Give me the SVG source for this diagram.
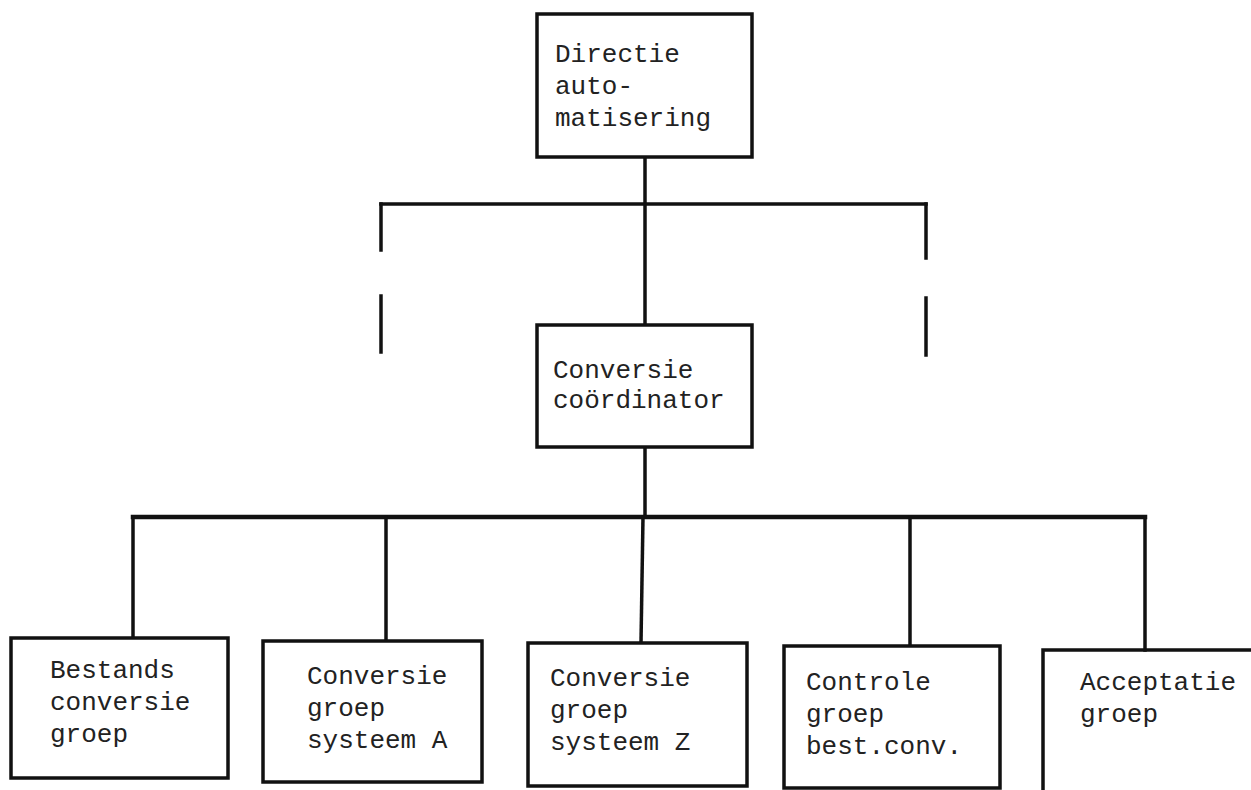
<svg xmlns="http://www.w3.org/2000/svg" width="1251" height="790" viewBox="0 0 1251 790">
<style>
.box{fill:#fff;stroke:#111;stroke-width:3.5}
.ln{stroke:#111;stroke-width:3.5;fill:none;stroke-linecap:square}
.t{font-family:"Liberation Mono","Courier New",monospace;font-size:26px;fill:#222}
</style>
<rect width="1251" height="790" fill="#fff"/>
<g id="connectors">
<line class="ln" x1="645" y1="157" x2="645" y2="325"/>
<line class="ln" x1="381" y1="204" x2="926" y2="204"/>
<line class="ln" x1="381" y1="204" x2="381" y2="250"/>
<line class="ln" x1="381" y1="296" x2="381" y2="352"/>
<line class="ln" x1="926" y1="204" x2="926" y2="258"/>
<line class="ln" x1="926" y1="298" x2="926" y2="355"/>
<line class="ln" x1="645" y1="447" x2="645" y2="517"/>
<line class="ln" x1="133" y1="517" x2="1145" y2="517" style="stroke-width:4.5"/>
<line class="ln" x1="133" y1="517" x2="133" y2="638"/>
<line class="ln" x1="386" y1="517" x2="386" y2="640"/>
<line class="ln" x1="643" y1="517" x2="641" y2="643"/>
<line class="ln" x1="910" y1="517" x2="910" y2="646"/>
<line class="ln" x1="1145" y1="517" x2="1145" y2="650"/>
</g>
<g id="directie">
<rect class="box" x="537" y="14" width="215" height="143"/>
<text class="t" x="555" y="62">Directie</text>
<text class="t" x="555" y="94">auto-</text>
<text class="t" x="555" y="126">matisering</text>
</g>
<g id="coordinator">
<rect class="box" x="537" y="325" width="215" height="122"/>
<text class="t" x="553" y="378">Conversie</text>
<text class="t" x="553" y="408">coördinator</text>
</g>
<g id="bestands">
<rect class="box" x="11" y="638" width="217" height="140"/>
<text class="t" x="50" y="678">Bestands</text>
<text class="t" x="50" y="710">conversie</text>
<text class="t" x="50" y="742">groep</text>
</g>
<g id="systeemA">
<rect class="box" x="263" y="641" width="219" height="141"/>
<text class="t" x="307" y="684">Conversie</text>
<text class="t" x="307" y="716">groep</text>
<text class="t" x="307" y="748">systeem A</text>
</g>
<g id="systeemZ">
<rect class="box" x="528" y="643" width="219" height="143"/>
<text class="t" x="550" y="686">Conversie</text>
<text class="t" x="550" y="718">groep</text>
<text class="t" x="550" y="750">systeem Z</text>
</g>
<g id="controle">
<rect class="box" x="784" y="646" width="216" height="142"/>
<text class="t" x="806" y="690">Controle</text>
<text class="t" x="806" y="722">groep</text>
<text class="t" x="806" y="754">best.conv.</text>
</g>
<g id="acceptatie">
<path class="ln" d="M1043 792 V650 H1253"/>
<text class="t" x="1080" y="690">Acceptatie</text>
<text class="t" x="1080" y="722">groep</text>
</g>
</svg>
